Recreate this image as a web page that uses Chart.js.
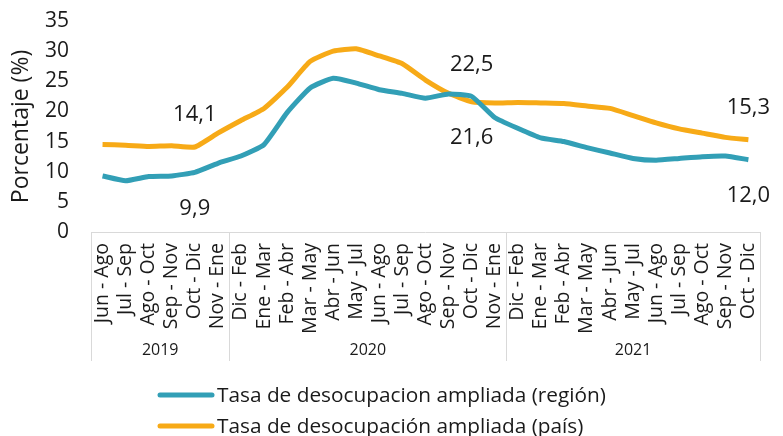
<!DOCTYPE html>
<html>
<head>
<meta charset="utf-8">
<script src="https://cdn.jsdelivr.net/npm/chart.js@4.4.0/dist/chart.umd.min.js"></script>
<style>
  html, body { margin: 0; padding: 0; background: #fff; }
  #wrap { width: 783px; height: 436px; }
</style>
</head>
<body>
<div id="wrap"><canvas id="myChart" width="783" height="436"></canvas></div>
<script>
const categories = [
  'Jun - Ago', 'Jul - Sep', 'Ago - Oct', 'Sep - Nov', 'Oct - Dic', 'Nov - Ene',
  'Dic - Feb', 'Ene - Mar', 'Feb - Abr', 'Mar - May', 'Abr - Jun', 'May - Jul',
  'Jun - Ago', 'Jul - Sep', 'Ago - Oct', 'Sep - Nov', 'Oct - Dic', 'Nov - Ene',
  'Dic - Feb', 'Ene - Mar', 'Feb - Abr', 'Mar - May', 'Abr - Jun', 'May - Jul',
  'Jun - Ago', 'Jul - Sep', 'Ago - Oct', 'Sep - Nov', 'Oct - Dic'
];
const years = ['2019', '2020', '2021'];
const yearSpans = [6, 12, 11];

const regionValues = [9.3, 8.5, 9.2, 9.3, 9.9, 11.4, 12.6, 14.5, 19.8, 23.9, 25.5, 24.7, 23.6, 23.0,
  22.2, 22.9, 22.5, 19.0, 17.2, 15.6, 15.0, 14.0, 13.1, 12.2, 11.9, 12.2, 12.5, 12.6, 12.0];
const countryValues = [14.5, 14.4, 14.2, 14.3, 14.1, 16.4, 18.5, 20.5, 24.0, 28.3, 30.0, 30.4, 29.2, 27.9,
  25.2, 23.0, 21.6, 21.4, 21.5, 21.4, 21.3, 20.9, 20.5, 19.3, 18.1, 17.1, 16.4, 15.7, 15.3];

const yMin = 0;
const yMax = 35;
const yStep = 5;

// which points carry a value label, and on which side
const labelIndexes = [4, 16, 28];
const regionLabelSide = ['below', 'above', 'below'];
const countryLabelSide = ['above', 'below', 'above'];

const seriesNames = ['Tasa de desocupacion ampliada (región)', 'Tasa de desocupación ampliada (país)'];
const tealColor = '#329fb6';
const orangeColor = '#f7aa17';
const gridColor = '#d9d9d9';
const textColor = '#1a1a1a';
const fontFamily = '"Open Sans", sans-serif';

const fmt = v => v.toFixed(1).replace('.', ',');

const extrasPlugin = {
  id: 'extras',
  afterDraw(chart) {
    const c = chart.ctx;
    const x = chart.scales.x;
    const area = chart.chartArea;
    const step = x.getPixelForValue(1) - x.getPixelForValue(0);
    const groupBottom = area.bottom + 129;

    // year group separators and labels
    c.save();
    c.strokeStyle = gridColor;
    c.lineWidth = 1;
    c.fillStyle = textColor;
    c.font = '16px ' + fontFamily;
    c.textAlign = 'center';
    c.textBaseline = 'middle';
    let start = 0;
    const edges = [0];
    yearSpans.forEach((n, i) => {
      const left = x.getPixelForValue(start) - step / 2;
      const right = x.getPixelForValue(start + n - 1) + step / 2;
      c.fillText(years[i], (left + right) / 2, area.bottom + 118);
      start += n;
      edges.push(start);
    });
    edges.forEach(e => {
      const px = Math.round(x.getPixelForValue(e) - step / 2) + 0.5;
      c.beginPath();
      c.moveTo(px, area.bottom);
      c.lineTo(px, groupBottom);
      c.stroke();
    });

    // value labels
    c.font = '22px ' + fontFamily;
    [[0, regionLabelSide], [1, countryLabelSide]].forEach(([di, sides]) => {
      const meta = chart.getDatasetMeta(di);
      const vals = chart.data.datasets[di].data;
      labelIndexes.forEach((idx, k) => {
        const p = meta.data[idx];
        const dy = sides[k] === 'above' ? -32 : 36;
        c.fillText(fmt(vals[idx]), p.x, p.y + dy);
      });
    });

    // legend
    c.textAlign = 'left';
    c.font = '20.8px ' + fontFamily;
    c.lineCap = 'round';
    c.lineWidth = 5;
    const rows = [395, 426];
    chart.data.datasets.forEach((ds, i) => {
      c.strokeStyle = ds.borderColor;
      c.beginPath();
      c.moveTo(160, rows[i]);
      c.lineTo(212, rows[i]);
      c.stroke();
      c.fillStyle = textColor;
      c.fillText(ds.label, 217, rows[i] + 1);
    });
    c.restore();
  }
};

new Chart('myChart', {
  type: 'line',
  data: {
    labels: categories,
    datasets: [
      {
        label: seriesNames[0],
        data: regionValues,
        borderColor: tealColor,
        backgroundColor: tealColor,
        borderWidth: 5,
        pointRadius: 0,
        tension: 0.15
      },
      {
        label: seriesNames[1],
        data: countryValues,
        borderColor: orangeColor,
        backgroundColor: orangeColor,
        borderWidth: 5,
        pointRadius: 0,
        tension: 0.15
      }
    ]
  },
  options: {
    responsive: false,
    animation: false,
    layout: { padding: { top: 21, right: 12, bottom: 74, left: 0 } },
    plugins: {
      legend: { display: false },
      tooltip: { enabled: false }
    },
    scales: {
      x: {
        offset: true,
        grid: { display: false, drawTicks: false },
        border: { display: true, color: gridColor, width: 1 },
        ticks: {
          autoSkip: false,
          minRotation: 90,
          maxRotation: 90,
          padding: 11,
          color: textColor,
          font: { family: fontFamily, size: 19.5 }
        },
        afterFit(scale) { scale.height = 130; }
      },
      y: {
        min: yMin,
        max: yMax,
        // invisible tick marks keep the labels away from the plot
        grid: { display: true, drawOnChartArea: false, drawTicks: true, tickLength: 22, tickColor: 'rgba(0,0,0,0)' },
        border: { display: false },
        ticks: {
          stepSize: yStep,
          padding: 0,
          color: textColor,
          font: { family: fontFamily, size: 21 }
        },
        title: {
          display: true,
          text: 'Porcentaje (%)',
          color: textColor,
          padding: { top: 8, bottom: 0 },
          font: { family: fontFamily, size: 23 }
        },
        afterFit(scale) { scale.width = 91; }
      }
    }
  },
  plugins: [extrasPlugin]
});
</script>
</body>
</html>
